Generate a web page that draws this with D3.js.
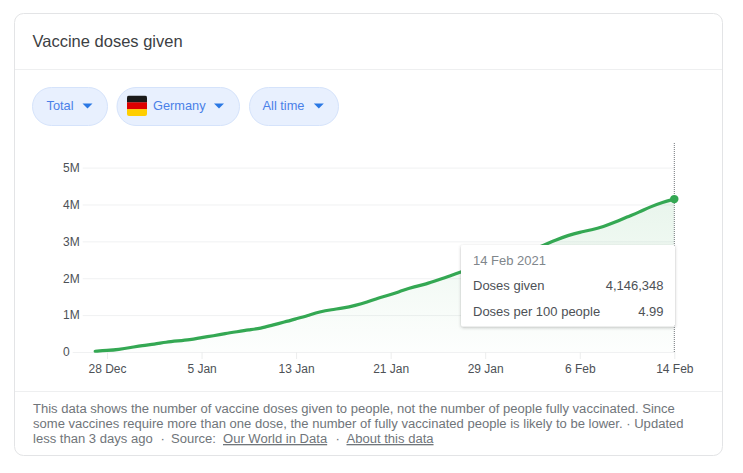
<!DOCTYPE html>
<html>
<head>
<meta charset="utf-8">
<script src="https://cdn.jsdelivr.net/npm/d3@7"></script>
<style>
  html, body { margin: 0; padding: 0; background: #fff; }
  svg { display: block; font-family: "Liberation Sans", Arial, sans-serif; }
</style>
</head>
<body>
<svg id="card" width="743" height="473"></svg>
<script>
// Daily cumulative doses for Germany, in millions, from 27 Dec 2020
const firstDay = "2020-12-27";
const dosesMillions = [
  0.02, 0.04, 0.07, 0.12, 0.18, 0.21, 0.27, 0.30, 0.33, 0.39,
  0.44, 0.50, 0.55, 0.60, 0.64, 0.73, 0.81, 0.90, 0.99, 1.09,
  1.15, 1.19, 1.26, 1.35, 1.47, 1.55, 1.67, 1.77, 1.84, 1.95,
  2.06, 2.18, 2.29, 2.38, 2.47, 2.56, 2.66, 2.77, 2.90, 3.04,
  3.16, 3.25, 3.31, 3.40, 3.52, 3.66, 3.79, 3.94, 4.06, 4.146348
];
const xTickDays = ["2020-12-28", "2021-01-05", "2021-01-13", "2021-01-21", "2021-01-29", "2021-02-06", "2021-02-14"];
const yTickValues = [0, 1, 2, 3, 4, 5];
const filterLabels = ["Total", "Germany", "All time"];
const tooltipDate = "14 Feb 2021";
const tooltipRows = [["Doses given", "4,146,348"], ["Doses per 100 people", "4.99"]];
const footerLines = [
  "This data shows the number of vaccine doses given to people, not the number of people fully vaccinated. Since",
  "some vaccines require more than one dose, the number of fully vaccinated people is likely to be lower. · Updated"
];
const flagStripes = ["#1a1a1a", "#dd0000", "#ffce00"];

const svg = d3.select("#card");
const parseDay = d3.utcParse("%Y-%m-%d");
const start = parseDay(firstDay);
const series = dosesMillions.map((v, i) => ({ date: d3.utcDay.offset(start, i), value: v }));
const last = series[series.length - 1];

const x = d3.scaleUtc().domain([parseDay(xTickDays[0]), parseDay(xTickDays[6])]).range([107, 674.3]);
const y = d3.scaleLinear().domain([0, 5]).range([352, 167.6]);

const defs = svg.append("defs");
const grad = defs.append("linearGradient").attr("id", "areaFill")
  .attr("gradientUnits", "userSpaceOnUse")
  .attr("x1", 0).attr("x2", 0).attr("y1", y(last.value)).attr("y2", y(0));
grad.append("stop").attr("offset", 0).attr("stop-color", "#34a853").attr("stop-opacity", 0.11);
grad.append("stop").attr("offset", 1).attr("stop-color", "#34a853").attr("stop-opacity", 0.01);
const shadow = defs.append("filter").attr("id", "tipShadow")
  .attr("x", "-10%").attr("y", "-15%").attr("width", "120%").attr("height", "135%");
shadow.append("feDropShadow").attr("dx", 0).attr("dy", 1).attr("stdDeviation", 1.8)
  .attr("flood-color", "#3c4043").attr("flood-opacity", 0.38);
defs.append("clipPath").attr("id", "flagClip")
  .append("rect").attr("x", 127).attr("y", 95.5).attr("width", 20).attr("height", 20.5).attr("rx", 2);

// Card frame and section dividers
svg.append("rect").attr("x", 14.5).attr("y", 13.5).attr("width", 708).attr("height", 442).attr("rx", 9)
  .attr("fill", "#fff").attr("stroke", "#e3e4e6");
svg.append("line").attr("x1", 15).attr("x2", 722).attr("y1", 69.5).attr("y2", 69.5).attr("stroke", "#eeeff0");
svg.append("line").attr("x1", 15).attr("x2", 722).attr("y1", 391.5).attr("y2", 391.5).attr("stroke", "#eeeff0");

svg.append("text").attr("x", 32.5).attr("y", 47).attr("font-size", 16.5).attr("fill", "#3c4043")
  .text("Vaccine doses given");

// Filter pills
const pillBoxes = [
  { x: 32, w: 76, text: 46.5, arrow: 87.5 },
  { x: 116.5, w: 123.5, text: 153, arrow: 219 },
  { x: 249, w: 90, text: 262.5, arrow: 318.8 }
];
filterLabels.forEach((label, i) => {
  const p = pillBoxes[i];
  svg.append("rect").attr("x", p.x + 0.5).attr("y", 87.5).attr("width", p.w - 1).attr("height", 38).attr("rx", 19)
    .attr("fill", "#e8f0fe").attr("stroke", "#d5e3fb");
  svg.append("text").attr("x", p.text).attr("y", 110).attr("font-size", 12.8).attr("fill", "#4a80e8").text(label);
  svg.append("path").attr("d", d3.line()([[p.arrow - 5, 103.5], [p.arrow + 5, 103.5], [p.arrow, 108.5]]) + "Z")
    .attr("fill", "#2a78e4");
});
const flag = svg.append("g").attr("clip-path", "url(#flagClip)");
flagStripes.forEach((c, i) => {
  flag.append("rect").attr("x", 127).attr("y", 95.5 + i * 20.5 / 3).attr("width", 20).attr("height", 20.5 / 3 + 0.2).attr("fill", c);
});

// Value axis: labels sit left-aligned and each grid line begins just after its label
const yAxis = svg.append("g").attr("transform", "translate(63,0)")
  .call(d3.axisRight(y).tickValues(yTickValues).tickSize(0).tickPadding(0)
    .tickFormat(d => d === 0 ? "0" : d + "M"));
yAxis.select(".domain").remove();
yAxis.selectAll("text").attr("font-size", 12).attr("font-family", "inherit").attr("fill", "#4d5156");
yAxis.selectAll(".tick").each(function () {
  const t = d3.select(this);
  const w = t.select("text").node().getComputedTextLength();
  t.select("line").attr("x1", w + 3).attr("x2", 674.3 - 63).attr("stroke", "#f0f1f2");
});

// Date axis
const xAxis = svg.append("g").attr("transform", "translate(0,352)")
  .call(d3.axisBottom(x).tickValues(xTickDays.map(parseDay)).tickSize(7).tickPadding(5)
    .tickFormat(d3.utcFormat("%-d %b")));
xAxis.select(".domain").remove();
xAxis.selectAll("line").attr("stroke", "#eceded");
xAxis.selectAll("text").attr("font-size", 12).attr("font-family", "inherit").attr("fill", "#4d5156");

// Area, line and hover guide
svg.append("path").datum(series)
  .attr("d", d3.area().x(d => x(d.date)).y0(y(0)).y1(d => y(d.value)).curve(d3.curveBasis))
  .attr("fill", "url(#areaFill)");
svg.append("line").attr("x1", x(last.date)).attr("x2", x(last.date)).attr("y1", 143).attr("y2", 352)
  .attr("stroke", "#70757a").attr("stroke-dasharray", "1 1");
svg.append("path").datum(series)
  .attr("d", d3.line().x(d => x(d.date)).y(d => y(d.value)).curve(d3.curveBasis))
  .attr("fill", "none").attr("stroke", "#34a853").attr("stroke-width", 3.2).attr("stroke-linecap", "round");
svg.append("circle").attr("cx", x(last.date)).attr("cy", y(last.value)).attr("r", 4.2).attr("fill", "#34a853");

// Tooltip for the latest day
svg.append("rect").attr("x", 461).attr("y", 245).attr("width", 214).attr("height", 81.5).attr("rx", 2)
  .attr("fill", "#fff").attr("filter", "url(#tipShadow)");
svg.append("text").attr("x", 473).attr("y", 265).attr("font-size", 13).attr("fill", "#80868b").text(tooltipDate);
tooltipRows.forEach((row, i) => {
  const ty = 290 + i * 25.5;
  svg.append("text").attr("x", 473).attr("y", ty).attr("font-size", 13).attr("fill", "#4d5156").text(row[0]);
  svg.append("text").attr("x", 663.5).attr("y", ty).attr("text-anchor", "end").attr("font-size", 13)
    .attr("fill", "#4d5156").text(row[1]);
});

// Footnote
const noteFill = "#70757a";
const noteSize = 13.06;
footerLines.forEach((line, i) => {
  svg.append("text").attr("x", 33).attr("y", 413 + i * 15).attr("font-size", noteSize).attr("fill", noteFill).text(line);
});
const lastLine = [
  { x: 33, text: "less than 3 days ago" },
  { x: 160.5, text: "·" },
  { x: 171, text: "Source:" },
  { x: 223, text: "Our World in Data", link: true },
  { x: 335.5, text: "·" },
  { x: 346.5, text: "About this data", link: true }
];
lastLine.forEach(s => {
  svg.append("text").attr("x", s.x).attr("y", 443).attr("font-size", noteSize).attr("fill", noteFill)
    .attr("text-decoration", s.link ? "underline" : null).text(s.text);
});
</script>
</body>
</html>
